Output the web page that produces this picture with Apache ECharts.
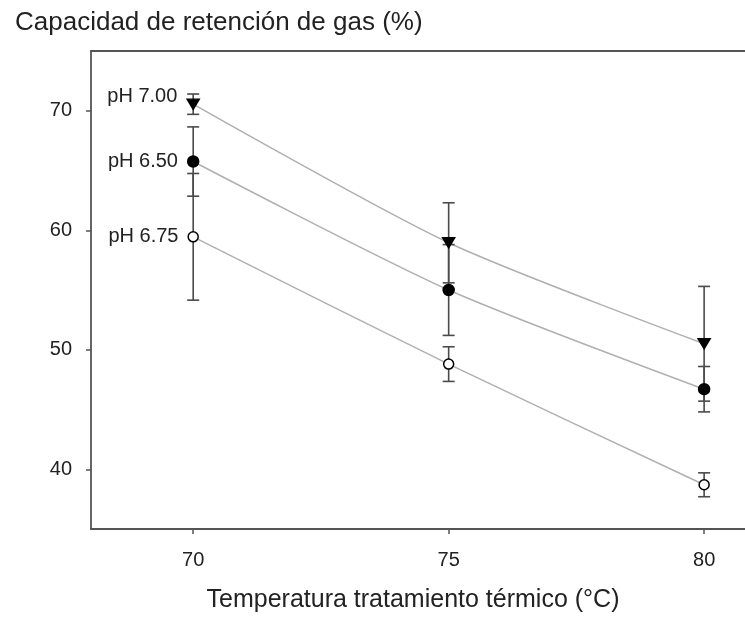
<!DOCTYPE html>
<html>
<head>
<meta charset="utf-8">
<script src="https://cdn.jsdelivr.net/npm/echarts@6/dist/echarts.min.js"></script>
<style>
html,body{margin:0;padding:0;background:#fff;}
#main{width:745px;height:620px;}
</style>
</head>
<body>
<div id="main"></div>
<script>
// datos
var temps = [70, 75, 80];
var xTicks = [70, 75, 80];
var yTicks = [40, 50, 60, 70];
var ph700 = [70.55, 58.95, 50.5];
var err700 = [0.85, 3.35, 4.8];
var ph650 = [65.75, 55.0, 46.7];
var err650 = [2.9, 3.8, 1.9];
var ph675 = [59.45, 48.8, 38.7];
var err675 = [5.3, 1.45, 1.0];
var etiquetas = ['pH 7.00', 'pH 6.50', 'pH 6.75'];

var txt = '#222';
var fuente = 'Liberation Sans, Arial, sans-serif';

function puntos(vals){
  var r = [];
  for (var i = 0; i < temps.length; i++) r.push([temps[i], vals[i]]);
  return r;
}
function barras(vals, errs){
  var r = [];
  for (var i = 0; i < temps.length; i++) r.push([temps[i], vals[i] - errs[i], vals[i] + errs[i]]);
  return r;
}

//linea gris
function linea(vals){
  return {
    type: 'line', data: puntos(vals), showSymbol: false, smooth: 0.25,
    lineStyle: {color: '#b0b0b0', width: 1.5}, z: 2, silent: true
  };
}
//barras de error
function errores(vals, errs){
  return {
    type: 'custom', data: barras(vals, errs), z: 3, silent: true,
    encode: {x: 0, y: [1, 2]},
    renderItem: function(params, api){
      var x = api.value(0);
      var lo = api.coord([x, api.value(1)]);
      var hi = api.coord([x, api.value(2)]);
      var w = 6;
      var st = {stroke: '#4a4a4a', lineWidth: 1.6};
      return {
        type: 'group',
        children: [
          {type: 'line', shape: {x1: lo[0], y1: lo[1], x2: hi[0], y2: hi[1]}, style: st},
          {type: 'line', shape: {x1: lo[0] - w, y1: lo[1], x2: lo[0] + w, y2: lo[1]}, style: st},
          {type: 'line', shape: {x1: hi[0] - w, y1: hi[1], x2: hi[0] + w, y2: hi[1]}, style: st}
        ]
      };
    }
  };
}
//marcadores
function marcas(vals, simbolo, tam, rot, relleno, etiqueta, desp){
  var d = puntos(vals).map(function(p, i){
    var item = {value: p};
    if (i === 0) {
      item.label = {
        show: true, position: 'left', distance: 9, offset: desp,
        formatter: etiqueta, color: txt, fontSize: 20, fontFamily: fuente
      };
    }
    return item;
  });
  return {
    type: 'scatter', data: d, symbol: simbolo, symbolSize: tam, symbolRotate: rot, z: 4,
    itemStyle: {color: relleno, borderColor: '#000', borderWidth: 1.5, opacity: 1},
    silent: true
  };
}

var lineaEje = {show: true, lineStyle: {color: '#555', width: 1.8}};

var chart = echarts.init(document.getElementById('main'));
var option = {
  animation: false,
  backgroundColor: '#fff',
  title: {
    text: 'Capacidad de retención de gas (%)',
    left: 10, top: 5,
    textStyle: {color: txt, fontSize: 26, fontWeight: 'normal', fontFamily: fuente}
  },
  grid: {left: 91, top: 51, bottom: 91, right: 0},
  xAxis: [{
    type: 'value', min: 68, max: 80.8,
    name: 'Temperatura tratamiento térmico (°C)',
    nameLocation: 'middle', nameGap: 59,
    nameTextStyle: {color: txt, fontSize: 25, fontFamily: fuente, padding: [0, 10, 0, 0]},
    axisLine: lineaEje,
    axisTick: {show: true, length: 5, customValues: xTicks, lineStyle: {color: '#555', width: 1.5}},
    axisLabel: {customValues: xTicks, color: txt, fontSize: 20, fontFamily: fuente, margin: 21},
    splitLine: {show: false}
  }, {
    //linea superior del marco
    type: 'value', position: 'top', min: 68, max: 80.8,
    axisLine: lineaEje, axisTick: {show: false}, axisLabel: {show: false}, splitLine: {show: false}
  }],
  yAxis: {
    type: 'value', min: 35, max: 75,
    axisLine: lineaEje,
    axisTick: {show: true, length: 5, customValues: yTicks, lineStyle: {color: '#555', width: 1.5}},
    axisLabel: {customValues: yTicks, color: txt, fontSize: 20, fontFamily: fuente, margin: 19},
    splitLine: {show: false}
  },
  series: [
    linea(ph700), linea(ph650), linea(ph675),
    errores(ph700, err700), errores(ph650, err650), errores(ph675, err675),
    marcas(ph700, 'triangle', [12, 10], 180, '#000', etiquetas[0], [0, -8]),
    marcas(ph650, 'circle', 11, 0, '#000', etiquetas[1], [0, 0]),
    marcas(ph675, 'circle', 10, 0, '#fff', etiquetas[2], [0, 0])
  ]
};
chart.setOption(option);
</script>
</body>
</html>
